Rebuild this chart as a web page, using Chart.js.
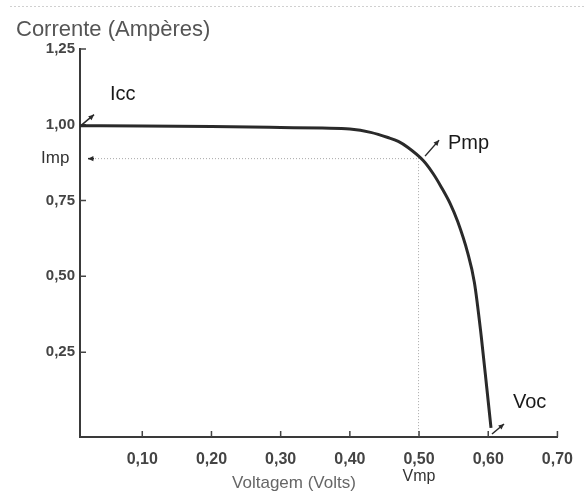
<!DOCTYPE html>
<html>
<head>
<meta charset="utf-8">
<script src="https://cdn.jsdelivr.net/npm/chart.js@4/dist/chart.umd.min.js"></script>
<style>
  html, body { margin: 0; padding: 0; background: #fff; }
  #wrap { width: 586px; height: 495px; }
</style>
</head>
<body>
<div id="wrap"><canvas id="myChart" width="586" height="495"></canvas></div>
<script>
// curva I-V de uma célula fotovoltaica
const voltage = [0.01, 0.10, 0.20, 0.30, 0.36, 0.40, 0.43, 0.455, 0.47, 0.484, 0.506, 0.52, 0.532, 0.545, 0.556, 0.57, 0.58, 0.59, 0.598, 0.604];
const current = [0.997, 0.996, 0.994, 0.991, 0.989, 0.986, 0.975, 0.958, 0.945, 0.925, 0.882, 0.84, 0.795, 0.74, 0.68, 0.58, 0.48, 0.30, 0.13, 0.0];

const xTicks = [0.1, 0.2, 0.3, 0.4, 0.5, 0.6, 0.7];
const yTicks = [0.25, 0.5, 0.75, 1.0, 1.25];

// pontos notáveis
const icc = 0.997;
const imp = 0.89;
const vmp = 0.50;
const voc = 0.604;

const ink = "#2a2a2a";

function fmt(v) {
  return v.toFixed(2).replace(".", ",");
}

function arrow(ctx, x1, y1, x2, y2) {
  ctx.beginPath();
  ctx.moveTo(x1, y1);
  ctx.lineTo(x2, y2);
  ctx.stroke();
  const a = Math.atan2(y2 - y1, x2 - x1);
  ctx.beginPath();
  ctx.moveTo(x2, y2);
  ctx.lineTo(x2 - 6 * Math.cos(a - 0.45), y2 - 6 * Math.sin(a - 0.45));
  ctx.lineTo(x2 - 6 * Math.cos(a + 0.45), y2 - 6 * Math.sin(a + 0.45));
  ctx.closePath();
  ctx.fill();
}

const extras = {
  id: "extras",
  beforeDatasetsDraw(chart) {
    const { ctx, scales: { x, y } } = chart;
    ctx.save();
    // linha pontilhada no topo
    ctx.strokeStyle = "#d0d0d0";
    ctx.lineWidth = 1;
    ctx.setLineDash([2, 2]);
    ctx.beginPath();
    ctx.moveTo(10, 6.5);
    ctx.lineTo(586, 6.5);
    ctx.stroke();

    // linhas de Imp e Vmp
    ctx.strokeStyle = "#a8a8a8";
    ctx.setLineDash([1, 2]);
    ctx.beginPath();
    ctx.moveTo(x.left + 12, y.getPixelForValue(imp) + 0.5);
    ctx.lineTo(x.getPixelForValue(vmp), y.getPixelForValue(imp) + 0.5);
    ctx.moveTo(x.getPixelForValue(vmp) - 0.5, y.getPixelForValue(imp));
    ctx.lineTo(x.getPixelForValue(vmp) - 0.5, y.bottom);
    ctx.stroke();
    ctx.setLineDash([]);

    // marcas internas dos eixos
    ctx.strokeStyle = "#444";
    ctx.lineWidth = 1.5;
    ctx.beginPath();
    y.ticks.forEach(t => {
      const py = y.getPixelForValue(t.value);
      ctx.moveTo(x.left, py);
      ctx.lineTo(x.left + 6, py);
    });
    x.ticks.forEach(t => {
      const px = x.getPixelForValue(t.value);
      ctx.moveTo(px, y.bottom);
      ctx.lineTo(px, y.bottom - 6);
    });
    ctx.stroke();
    ctx.restore();
  },
  afterDatasetsDraw(chart) {
    const { ctx, scales: { x, y } } = chart;
    ctx.save();
    ctx.strokeStyle = ink;
    ctx.fillStyle = ink;
    ctx.lineWidth = 1.5;

    const iccX = x.left + 2, iccY = y.getPixelForValue(icc) - 1;
    arrow(ctx, iccX, iccY, iccX + 12, iccY - 10);
    const pX = x.getPixelForValue(vmp) + 6, pY = y.getPixelForValue(imp) - 2;
    arrow(ctx, pX, pY, pX + 14, pY - 16);
    const vX = x.getPixelForValue(voc) + 1, vY = y.bottom - 3;
    arrow(ctx, vX, vY, vX + 12, vY - 10);
    arrow(ctx, x.left + 14, y.getPixelForValue(imp) + 0.5, x.left + 8, y.getPixelForValue(imp) + 0.5);

    ctx.textBaseline = "middle";
    ctx.textAlign = "left";
    ctx.fillStyle = "#555";
    ctx.font = "22px 'Liberation Sans', Arial, sans-serif";
    ctx.fillText("Corrente (Ampères)", 16, 30);

    ctx.fillStyle = "#1a1a1a";
    ctx.font = "20px 'Liberation Sans', Arial, sans-serif";
    ctx.fillText("Icc", 110, 94);
    ctx.fillText("Pmp", 448, 143);
    ctx.fillText("Voc", 513, 402);

    ctx.fillStyle = "#333";
    ctx.font = "17px 'Liberation Sans', Arial, sans-serif";
    ctx.fillText("Imp", 41, y.getPixelForValue(imp));
    ctx.textAlign = "center";
    ctx.font = "16px 'Liberation Sans', Arial, sans-serif";
    ctx.fillText("Vmp", x.getPixelForValue(vmp), 477);

    ctx.fillStyle = "#666";
    ctx.font = "17px 'Liberation Sans', Arial, sans-serif";
    ctx.fillText("Voltagem (Volts)", 294, 483);
    ctx.restore();
  }
};

const config = {
  type: "line",
  data: {
    datasets: [
      {
        label: "Corrente",
        data: voltage.map((v, i) => ({ x: v, y: current[i] })),
        borderColor: ink,
        borderWidth: 3,
        pointRadius: 0,
        fill: false,
        cubicInterpolationMode: "monotone",
      },
    ],
  },
  options: {
    responsive: false,
    animation: false,
    layout: {
      padding: { left: 0, top: 49, right: 26, bottom: 0 },
    },
    plugins: {
      legend: { display: false },
      tooltip: { enabled: false },
      title: { display: false },
    },
    scales: {
      x: {
        type: "linear",
        min: 0.01,
        max: 0.7,
        afterBuildTicks: s => { s.ticks = xTicks.map(v => ({ value: v })); },
        afterFit: s => { s.height = 58; },
        grid: { display: true, drawOnChartArea: false, drawTicks: false },
        border: { display: true, color: "#3a3a3a", width: 2 },
        ticks: {
          padding: 13,
          color: "#444",
          font: { size: 16, weight: "bold" },
          callback: v => fmt(v),
        },
      },
      y: {
        type: "linear",
        min: -0.03,
        max: 1.25,
        afterBuildTicks: s => { s.ticks = yTicks.map(v => ({ value: v })); },
        afterFit: s => { s.width = 80; },
        grid: { display: true, drawOnChartArea: false, drawTicks: false },
        border: { display: true, color: "#3a3a3a", width: 2 },
        ticks: {
          padding: 5,
          color: "#444",
          font: { size: 15, weight: "bold" },
          callback: v => fmt(v),
        },
      },
    },
  },
  plugins: [extras],
};

Chart.defaults.font.family = "'Liberation Sans', Arial, sans-serif";
Chart.defaults.color = "#444";

let myChart = new Chart(document.getElementById("myChart"), config);
</script>
</body>
</html>
